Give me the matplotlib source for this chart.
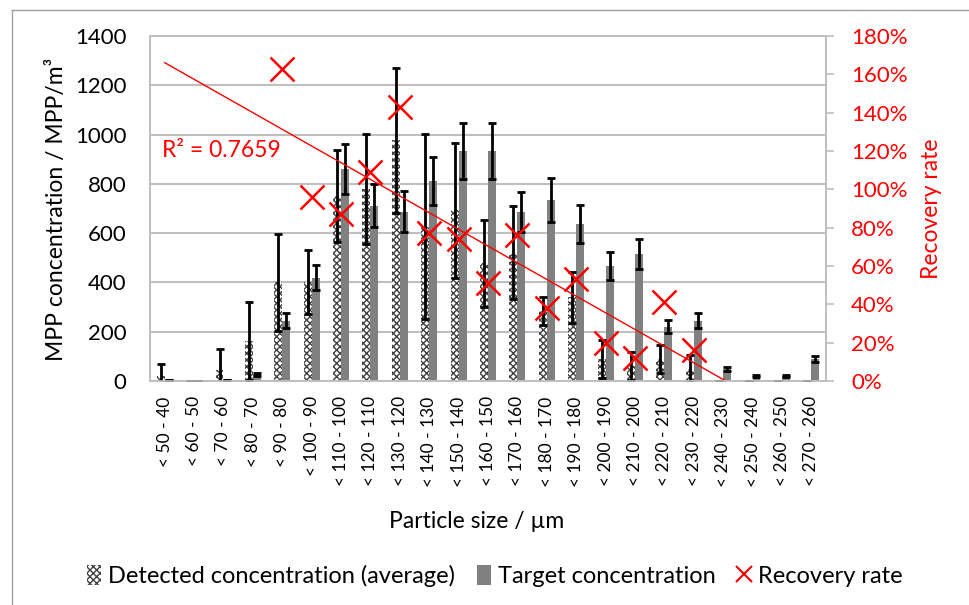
import numpy as np
import matplotlib
matplotlib.use('Agg')
import matplotlib.pyplot as plt
from matplotlib.patches import Patch
from matplotlib.lines import Line2D
from matplotlib.ticker import PercentFormatter

plt.rcParams['font.family'] = ['Lato', 'DejaVu Sans']
plt.rcParams['hatch.linewidth'] = 1.0

# particle size classes
categories = ['< 50 - 40', '< 60 - 50', '< 70 - 60', '< 80 - 70', '< 90 - 80',
              '< 100 - 90', '< 110 - 100', '< 120 - 110', '< 130 - 120', '< 140 - 130',
              '< 150 - 140', '< 160 - 150', '< 170 - 160', '< 180 - 170', '< 190 - 180',
              '< 200 - 190', '< 210 - 200', '< 220 - 210', '< 230 - 220', '< 240 - 230',
              '< 250 - 240', '< 260 - 250', '< 270 - 260']

# MPP/m3
detected = [20, 0, 45, 164, 400, 402, 750, 778, 976, 626, 693, 478, 521, 283, 339,
            91, 62, 89, 50, 0, 2, 0, 2]
detected_err = [48, 0, 83, 158, 197, 130, 187, 223, 293, 376, 274, 176, 190, 56, 102,
                77, 57, 57, 55, 0, 0, 0, 0]
target = [3, 2, 3, 27, 245, 420, 860, 712, 687, 811, 933, 933, 687, 736, 638,
          466, 515, 220, 245, 47, 22, 22, 90]
target_err = [0, 0, 0, 5, 30, 50, 103, 86, 82, 97, 112, 112, 81, 89, 78,
              56, 62, 27, 30, 8, 4, 4, 12]

# recovery rate (fraction), only for the middle classes
recovery = [np.nan, np.nan, np.nan, np.nan, 1.63, 0.96, 0.87, 1.09, 1.43, 0.77, 0.74,
            0.51, 0.76, 0.38, 0.53, 0.20, 0.12, 0.41, 0.16, np.nan, np.nan, np.nan, np.nan]
r2_text = 'R² = 0.7659'

RED = '#FF0000'
GRID = '#BFBFBF'

fig = plt.figure(figsize=(9.7, 6.05), dpi=100)
ax = fig.add_axes([150/970, 1 - 381/605, 676/970, 345/605])

x = np.arange(len(categories))
w = 0.27
ax.bar(x - w/2, detected, w, color='white', edgecolor='#404040', hatch='xxxxx', linewidth=0, zorder=2)
ax.bar(x + w/2, target, w, color='#808080', linewidth=0, zorder=2)
ax.errorbar(x - w/2, detected, yerr=detected_err, fmt='none', ecolor='black',
            elinewidth=2, capsize=3, capthick=2, zorder=3)
ax.errorbar(x + w/2, target, yerr=target_err, fmt='none', ecolor='black',
            elinewidth=2, capsize=3, capthick=2, zorder=3)

ax.set_xlim(-0.5, len(categories) - 0.5)
ax.set_ylim(0, 1400)
ax.set_yticks(np.arange(0, 1401, 200))
ax.set_xticks(x)
ax.set_xticklabels(categories, rotation=90, fontsize=12.5)
ax.tick_params(axis='x', length=0, pad=11)
ax.tick_params(axis='y', length=0, pad=17, labelsize=16)
ax.yaxis.grid(True, color=GRID, linewidth=1.5, zorder=0)
ax.set_axisbelow(True)
for s in ax.spines.values():
    s.set_color(GRID)
    s.set_linewidth(1.2)

# recovery rate on the right axis
ax2 = ax.twinx()
ax2.plot(x, recovery, linestyle='none', marker='x', markersize=17, mew=1.8, color=RED)

rec = np.array(recovery)
ok = ~np.isnan(rec)
coef = np.polyfit(x[ok], rec[ok], 1)
xt = np.array([0, len(categories) - 1])
ax2.plot(xt, np.polyval(coef, xt), color=RED, linewidth=1)
ax2.text(-0.08, 1.205, r2_text, color=RED, fontsize=16.5, va='center')

ax2.set_ylim(0, 1.8)
ax2.set_yticks(np.arange(0, 1.81, 0.2))
ax2.yaxis.set_major_formatter(PercentFormatter(1.0, decimals=0))
ax2.tick_params(axis='y', colors=GRID, labelcolor=RED, labelsize=16, length=6, width=1.2, pad=12)
for s in ax2.spines.values():
    s.set_color(GRID)
    s.set_linewidth(1.2)

fig.text(57/970, 1 - 209/605, 'MPP concentration / MPP/m³', rotation=90,
         ha='center', va='center', fontsize=16.5)
fig.text(932/970, 1 - 209/605, 'Recovery rate', rotation=90, color=RED,
         ha='center', va='center', fontsize=16.5)
fig.text(477/970, 1 - 521/605, 'Particle size / µm', ha='center', va='center', fontsize=16.5)

handles = [Patch(facecolor='white', edgecolor='#404040', hatch='xxxxx', linewidth=0),
           Patch(facecolor='#808080', linewidth=0),
           Line2D([], [], linestyle='none', marker='x', markersize=11, mew=1.5, color=RED)]
labels = ['Detected concentration (average)', 'Target concentration', 'Recovery rate']
fig.legend(handles, labels, loc='center', bbox_to_anchor=(495/970, 1 - 576/605), ncol=3,
           frameon=False, fontsize=17, handlelength=0.6, handleheight=0.9,
           handletextpad=0.3, columnspacing=0.9)

# outer chart frame (only left and top are in the crop)
fig.add_artist(Line2D([12/970, 12/970], [0, 1 - 10/605], color='#A0A0A0', linewidth=1))
fig.add_artist(Line2D([12/970, 1], [1 - 10/605, 1 - 10/605], color='#A0A0A0', linewidth=1))

fig.savefig('out.png', dpi=100)
